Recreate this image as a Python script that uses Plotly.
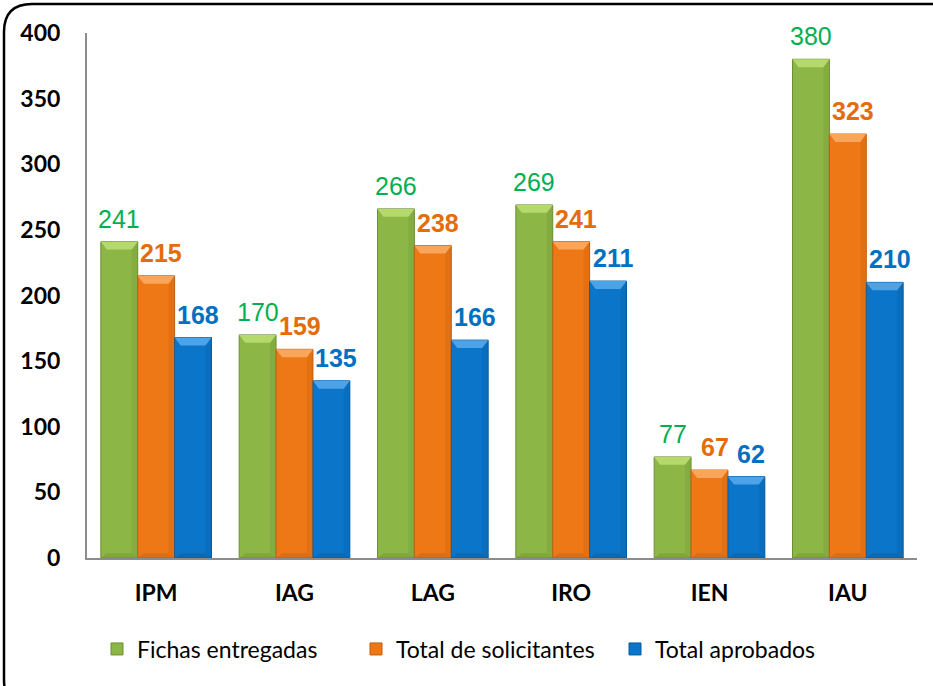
import plotly.graph_objects as go

# chart data
categories = ['IPM', 'IAG', 'LAG', 'IRO', 'IEN', 'IAU']
fichas_entregadas = [241, 170, 266, 269, 77, 380]
total_solicitantes = [215, 159, 238, 241, 67, 323]
total_aprobados = [168, 135, 166, 211, 62, 210]
series_names = ['Fichas entregadas', 'Total de solicitantes', 'Total aprobados']
y_ticks = [0, 50, 100, 150, 200, 250, 300, 350, 400]

W, H = 933, 686
M = dict(l=87, r=16, t=33, b=128)
PW = W - M['l'] - M['r']
PH = H - M['t'] - M['b']

bar_colors = ['#8CB646', '#EE7716', '#0A75C9']
cap_colors = ['#B5D96C', '#F9A65A', '#4EA2E8']
edge_colors = ['#6E8E35', '#C25E0C', '#075C9E']
label_colors = ['#00B050', '#E46C0A', '#0070C0']
label_bold = [False, True, True]
label_xshift = [0, 5, 5]

bargap = 0.2
bw = (1 - bargap) / 3

fig = go.Figure()
series = [fichas_entregadas, total_solicitantes, total_aprobados]

for j, vals in enumerate(series):
    fig.add_trace(go.Bar(
        x=categories, y=vals, name=series_names[j],
        marker=dict(color=bar_colors[j], line=dict(color=edge_colors[j], width=1)),
        hoverinfo='x+y',
    ))

# bevel caps, side shading and labels
cap_h = 6
dx = 6 / (PW / len(categories))
shapes = []
annotations = []
for j, vals in enumerate(series):
    off = (j - 1) * bw
    for i, v in enumerate(vals):
        xc = i + off
        x0, x1 = xc - bw / 2, xc + bw / 2
        # darker right side
        shapes.append(dict(
            type='path', xref='x', yref='y', layer='above',
            path=f'M {x1 - dx},{v - cap_h} L {x1},{v} L {x1},0 L {x1 - dx},{cap_h * 0.6} Z',
            fillcolor=edge_colors[j], opacity=0.25, line=dict(width=0),
        ))
        # top cap
        shapes.append(dict(
            type='path', xref='x', yref='y', layer='above',
            path=f'M {x0},{v} L {x1},{v} L {x1 - dx},{v - cap_h} L {x0 + dx},{v - cap_h} Z',
            fillcolor=cap_colors[j], line=dict(width=0),
        ))
        # bottom edge
        shapes.append(dict(
            type='path', xref='x', yref='y', layer='above',
            path=f'M {x0},0 L {x1},0 L {x1 - dx},{cap_h * 0.6} L {x0 + dx},{cap_h * 0.6} Z',
            fillcolor=edge_colors[j], opacity=0.4, line=dict(width=0),
        ))
        annotations.append(dict(
            x=xc, y=v, xref='x', yref='y', text=str(v), showarrow=False,
            yanchor='bottom', yshift=7, xshift=label_xshift[j],
            font=dict(family='Liberation Sans, Arial', size=25, color=label_colors[j],
                      weight='bold' if label_bold[j] else 'normal'),
        ))


# rounded outer border (pixel positions converted to paper coords)
def px(x):
    return (x - M['l']) / PW


def py(y):
    return 1 - (y - M['t']) / PH


bx0, by0, bx1, by1, r = 4, 4, 958, 708, 28
border = (f'M {px(bx0)},{py(by0 + r)} Q {px(bx0)},{py(by0)} {px(bx0 + r)},{py(by0)} '
          f'L {px(bx1 - r)},{py(by0)} Q {px(bx1)},{py(by0)} {px(bx1)},{py(by0 + r)} '
          f'L {px(bx1)},{py(by1 - r)} Q {px(bx1)},{py(by1)} {px(bx1 - r)},{py(by1)} '
          f'L {px(bx0 + r)},{py(by1)} Q {px(bx0)},{py(by1)} {px(bx0)},{py(by1 - r)} Z')
shapes.append(dict(type='path', xref='paper', yref='paper', path=border,
                   line=dict(color='black', width=2.5), layer='below'))

fig.update_layout(
    width=W, height=H, margin=dict(M, autoexpand=False),
    barmode='group', bargap=bargap, bargroupgap=0,
    plot_bgcolor='white', paper_bgcolor='white',
    font=dict(family='Lato, Noto Sans', color='black'),
    shapes=shapes, annotations=annotations,
    legend=dict(orientation='h', x=px(97), xanchor='left', y=py(649), yanchor='middle',
                font=dict(family='Lato', size=23, color='black'), itemwidth=30,
                entrywidth=214, entrywidthmode='pixels', traceorder='normal'),
    showlegend=True,
)
fig.update_yaxes(range=[0, 400], tickvals=y_ticks, showgrid=False, zeroline=False,
                 showline=True, linecolor='#8C8C8C', linewidth=2, ticks='',
                 ticklabelstandoff=20, automargin=False,
                 tickfont=dict(family='Lato', size=23, weight='bold', color='black'))
fig.update_xaxes(showgrid=False, showline=True, linecolor='#8C8C8C', linewidth=2, ticks='',
                 ticklabelstandoff=13, automargin=False,
                 tickfont=dict(family='Lato', size=23, weight='bold', color='black'))

# drop the default page margin so the figure sits at the window corner
fig.write_html('out.html', config={'displayModeBar': False},
               post_script="document.body.style.margin='0';document.body.style.overflow='hidden';")
